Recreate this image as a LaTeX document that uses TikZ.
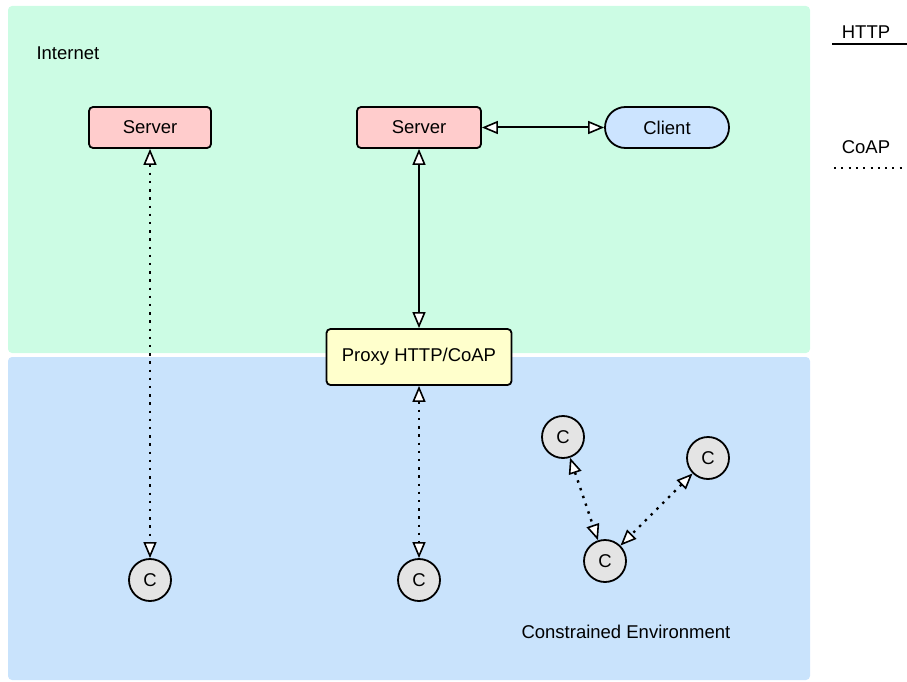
\documentclass[tikz,border=0pt]{standalone}
\usepackage{fontspec}
\setmainfont{Liberation Sans}
\usetikzlibrary{arrows.meta,shapes.misc}
\definecolor{netgreen}{HTML}{CCFCE4}
\definecolor{envblue}{HTML}{C9E3FC}
\definecolor{serverpink}{HTML}{FFCCCC}
\definecolor{clientblue}{HTML}{CCE4FF}
\definecolor{proxyyellow}{HTML}{FFFFCC}
\definecolor{cgray}{HTML}{E4E4E4}
\begin{document}
\begin{tikzpicture}[x=1pt,y=-1pt,
  every node/.style={font=\fontsize{18.5}{22}\selectfont},
  panel/.style={rounded corners=4pt},
  box/.style={draw, line width=1.8pt, rounded corners=4pt, minimum width=122pt, minimum height=41pt, inner sep=0pt},
  cnode/.style={circle, draw, line width=1.8pt, fill=cgray, minimum size=42pt, inner sep=0pt},
  opentri/.tip={Triangle[fill=white, length=16pt, width=13pt, line width=1.6pt]},
  http/.style={line width=2pt, {opentri}-{opentri}},
  coap/.style={line width=2.4pt, dash pattern=on 2.4pt off 5.8pt, {opentri}-{opentri}},
  legendline/.style={line width=2pt}
]
\useasboundingbox (0,0) rectangle (907,682);

% background areas
\fill[netgreen, panel] (8,6) rectangle (810,353);
\fill[envblue, panel] (8,357) rectangle (810,680);
\node[anchor=west] (inet) at (33,53) {Internet};
\node[anchor=west] (cenv) at (518,632) {Constrained Environment};

% nodes
\node[box, fill=serverpink] (s1) at (150,127.5) {Server};
\node[box, fill=serverpink, minimum width=124pt] (s2) at (419,127.5) {Server};
\node[rounded rectangle, draw, line width=1.8pt, fill=clientblue, minimum width=124pt, minimum height=41pt, inner sep=0pt] (client) at (667,127.5) {Client};
\node[box, fill=proxyyellow, minimum width=185pt, minimum height=56pt] (proxy) at (419,357) {Proxy HTTP/CoAP};

\node[cnode] (c1) at (150,580) {C};
\node[cnode] (c2) at (419,580) {C};
\node[cnode] (c3) at (563,437) {C};
\node[cnode] (c4) at (708,458) {C};
\node[cnode] (c5) at (605,561) {C};

% connections
\draw[http] (s2) -- (client);
\draw[http] (s2) -- (proxy);
\draw[coap] (s1) -- (c1);
\draw[coap] (proxy) -- (c2);
\draw[coap] (c3) -- (c5);
\draw[coap] (c4) -- (c5);

% legend
\node (lhttp) at (866,32) {HTTP};
\node (lcoap) at (866,147) {CoAP};
\coordinate (h1) at (832,44);
\coordinate (h2) at (907,44);
\coordinate (d1) at (834,168);
\coordinate (d2) at (907,168);
\draw[legendline] (h1) -- (h2);
\draw[line width=2pt, dash pattern=on 2pt off 5.3pt] (d1) -- (d2);
\end{tikzpicture}
\end{document}
